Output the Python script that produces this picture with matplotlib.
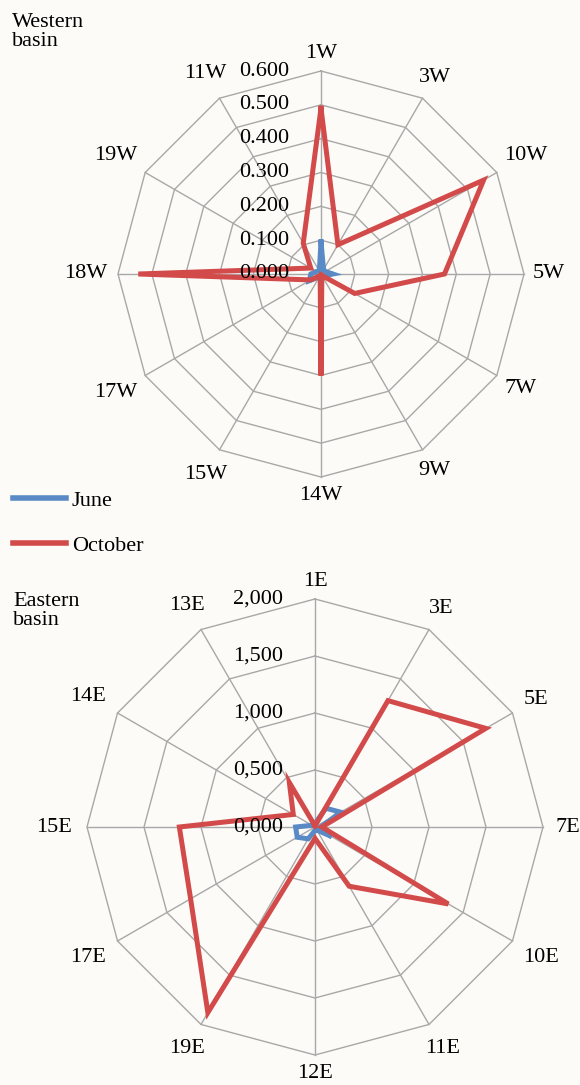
import numpy as np
import matplotlib
matplotlib.use('Agg')
import matplotlib.pyplot as plt
from matplotlib.transforms import offset_copy

plt.rcParams['font.family'] = ['Liberation Serif', 'DejaVu Serif']

# ---------------- data ----------------
west_categories = ['1W', '3W', '10W', '5W', '7W', '9W', '14W', '15W', '17W', '18W', '19W', '11W']
west_june = [0.095, 0.015, 0.015, 0.035, 0.010, 0.010, 0.015, 0.010, 0.040, 0.030, 0.015, 0.010]
west_october = [0.490, 0.100, 0.555, 0.365, 0.115, 0.005, 0.300, 0.005, 0.035, 0.540, 0.035, 0.105]
west_ticks = [0.0, 0.1, 0.2, 0.3, 0.4, 0.5, 0.6]
west_tick_labels = ['0.000', '0.100', '0.200', '0.300', '0.400', '0.500', '0.600']

east_categories = ['1E', '3E', '5E', '7E', '10E', '11E', '12E', '19E', '17E', '15E', '14E', '13E']
east_june = [0.03, 0.19, 0.26, 0.05, 0.17, 0.03, 0.03, 0.12, 0.18, 0.17, 0.03, 0.02]
east_october = [0.01, 1.28, 1.73, 0.06, 1.35, 0.60, 0.10, 1.88, 1.26, 1.19, 0.22, 0.45]
east_ticks = [0.0, 0.5, 1.0, 1.5, 2.0]
east_tick_labels = ['0,000', '0,500', '1,000', '1,500', '2,000']

series_names = ['June', 'October']

# ---------------- style ----------------
BG = '#FDFBF8'
GRID = '#A8A8A8'
BLUE = '#5A8AC6'
RED = '#D24B4A'
FS = 16
LW = 3.6
W, H = 580, 1085

fig = plt.figure(figsize=(W / 100, H / 100), dpi=100, facecolor=BG)


def radar(rect, R_px, cats, june, october, ticks, tlabels):
    ax = fig.add_axes(rect, projection='polar')
    n = len(cats)
    theta = np.arange(n) * 2 * np.pi / n
    ax.set_theta_zero_location('N')
    ax.set_theta_direction(-1)
    rmax = ticks[-1]
    ax.set_ylim(0, rmax)
    ax.axis('off')
    tc = np.append(theta, theta[0])
    for t in ticks[1:]:
        ax.plot(tc, [t] * (n + 1), color=GRID, lw=1.0, zorder=1, clip_on=False)
    for th in theta:
        ax.plot([th, th], [0, rmax], color=GRID, lw=1.0, zorder=1, clip_on=False)
    l1, = ax.plot(tc, list(june) + [june[0]], color=BLUE, lw=LW, zorder=3,
                  solid_joinstyle='miter', clip_on=False)
    l2, = ax.plot(tc, list(october) + [october[0]], color=RED, lw=LW, zorder=4,
                  solid_joinstyle='miter', clip_on=False)
    # category labels
    for th, c in zip(theta, cats):
        off = 10 + 8 * abs(np.cos(th)) + 7.5 * len(c) * abs(np.sin(th))
        ax.text(th, rmax * (1 + off / R_px), c, ha='center', va='center',
                fontsize=FS, zorder=5, clip_on=False)
    # radial tick labels
    trans = offset_copy(ax.transData, fig=fig, x=-32, y=0, units='dots')
    for t, lab in zip(ticks, tlabels):
        ax.text(0, t, lab, transform=trans, ha='right', va='center',
                fontsize=FS, zorder=5, clip_on=False)
    return ax, l1, l2


# Western basin: center (321, 274) px, radius 203 px
cx, cy, R = 321, 274, 203
ax1, lj, lo = radar([(cx - R) / W, (H - cy - R) / H, 2 * R / W, 2 * R / H], R,
                    west_categories, west_june, west_october, west_ticks, west_tick_labels)

# Eastern basin: center (315, 827) px, radius 228 px
cx, cy, R = 315, 827, 228
ax2, _, _ = radar([(cx - R) / W, (H - cy - R) / H, 2 * R / W, 2 * R / H], R,
                  east_categories, east_june, east_october, east_ticks, east_tick_labels)

fig.text(12 / W, 1 - 13 / H, 'Western\nbasin', ha='left', va='top', fontsize=FS, linespacing=1.0)
fig.text(13 / W, 1 - 592 / H, 'Eastern\nbasin', ha='left', va='top', fontsize=FS, linespacing=1.0)

leg = fig.legend([lj, lo], series_names, loc='upper left',
                 bbox_to_anchor=(13 / W, 1 - 490 / H), frameon=False,
                 fontsize=FS, handlelength=2.4, handletextpad=0.25,
                 labelspacing=1.1, borderpad=0, borderaxespad=0)
for h in leg.legend_handles:
    h.set_linewidth(4.0)

fig.savefig('out.png', dpi=100, facecolor=BG)
